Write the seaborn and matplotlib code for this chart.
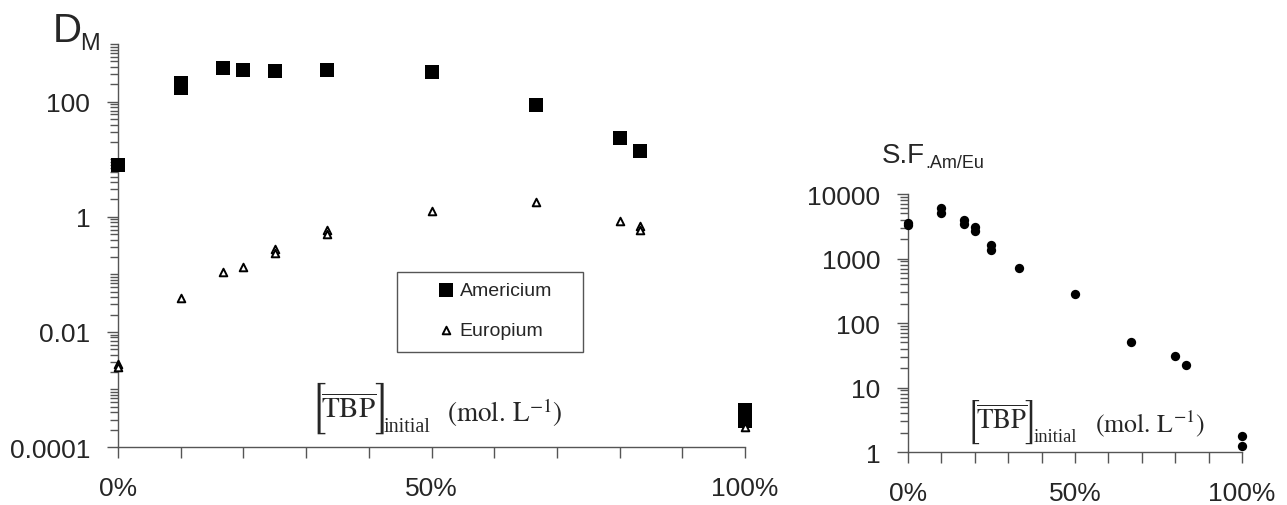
# D_M and separation factor vs. initial TBP fraction (log scale)
import numpy as np
import pandas as pd
import matplotlib
matplotlib.use("Agg")
import matplotlib.pyplot as plt
import seaborn as sns
from matplotlib.ticker import FixedLocator, FuncFormatter, NullFormatter
from matplotlib.patches import Rectangle

# Data
am_x = [0, 0.1, 0.1, 0.167, 0.2, 0.25, 0.333, 0.5, 0.667, 0.8, 0.833, 1.0, 1.0]
am_d = [7.9, 211, 173, 385, 355, 341, 360, 330, 87, 23, 13.8, 0.00044, 0.00028]

eu_x = [0, 0, 0.1, 0.167, 0.2, 0.25, 0.25, 0.333, 0.333, 0.5, 0.667, 0.8, 0.833, 0.833, 1.0]
eu_d = [0.00273, 0.00242, 0.039, 0.111, 0.136, 0.27, 0.23, 0.58, 0.50, 1.25, 1.8, 0.83, 0.68, 0.58, 0.000224]

sf_x = [0, 0, 0.1, 0.1, 0.167, 0.167, 0.2, 0.2, 0.25, 0.25, 0.333, 0.5, 0.667, 0.8, 0.833, 1.0, 1.0]
sf = [3600, 3300, 6100, 5080, 3950, 3430, 3080, 2670, 1620, 1355, 713, 282, 51, 30.8, 22.3, 1.77, 1.24]

am = pd.DataFrame({"TBP": am_x, "D": am_d})
eu = pd.DataFrame({"TBP": eu_x, "D": eu_d})
sep = pd.DataFrame({"TBP": sf_x, "SF": sf})

sns.set_style("ticks")
plt.rcParams["font.family"] = ["Liberation Sans", "DejaVu Sans"]
plt.rcParams["mathtext.fontset"] = "stix"

axis_col = "#555555"
W, H = 1287, 506

fig = plt.figure(figsize=(12.87, 5.06), dpi=100)
ax1 = fig.add_axes([0.0917, 0.1146, 0.4872, 0.7964])
ax2 = fig.add_axes([0.7055, 0.1047, 0.2595, 0.5099])


def px(x, y):
    # pixel position (from top-left) -> figure fraction
    return x / W, 1 - y / H


def tbp_label(x0, yb, k, kb, x_mol, mol_size):
    # [TBP-bar]_initial (mol. L^-1) built from pieces
    # x0 = left of "[", yb = bottom of the brackets (baseline of "initial")
    serif = ["Liberation Serif", "DejaVu Serif"]
    brk = ["STIXSizeOneSym", "Liberation Serif"]
    kw = dict(ha="left", va="baseline")
    fig.text(*px(x0, yb - 5 * kb), "[", fontsize=30.6 * kb, family=brk, **kw)
    fig.text(*px(x0 + 12 * k, yb - 14 * k), r"$\overline{\mathrm{TBP}}$", fontsize=21 * k, **kw)
    fig.text(*px(x0 + 65 * k, yb - 5 * kb), "]", fontsize=30.6 * kb, family=brk, **kw)
    fig.text(*px(x0 + 75 * k, yb), "initial", fontsize=14.5 * k, family=serif, **kw)
    fig.text(*px(x_mol, yb - 10 * k), r"$(\mathrm{mol.\,L}^{-1})$", fontsize=mol_size, **kw)


# left panel: distribution ratios
sns.scatterplot(data=am, x="TBP", y="D", marker="s", s=95, color="black",
                edgecolor="black", linewidth=0, label="Americium", ax=ax1, clip_on=False, zorder=3)
sns.scatterplot(data=eu, x="TBP", y="D", marker="^", s=30, facecolor="white",
                edgecolor="black", linewidth=1.4, label="Europium", ax=ax1, clip_on=False, zorder=4)

# right panel: separation factor
sns.scatterplot(data=sep, x="TBP", y="SF", marker="o", s=45, color="black",
                edgecolor="black", linewidth=0, ax=ax2, clip_on=False, zorder=3)


def minor_log(lo, hi):
    vals = []
    for e in range(lo, hi):
        vals += [k * 10.0 ** e for k in range(2, 10)]
    return vals


def pct(v, pos):
    return f"{v * 100:.0f}%"


for ax in (ax1, ax2):
    ax.set_yscale("log")
    ax.set_xlim(0, 1)
    ax.set_xlabel("")
    ax.set_ylabel("")
    sns.despine(ax=ax)
    for sp in ("left", "bottom"):
        ax.spines[sp].set_color(axis_col)
        ax.spines[sp].set_linewidth(1)
    ax.xaxis.set_major_locator(FixedLocator([0, 0.5, 1.0]))
    ax.xaxis.set_minor_locator(FixedLocator([0.1, 0.2, 0.3, 0.4, 0.6, 0.7, 0.8, 0.9]))
    ax.xaxis.set_major_formatter(FuncFormatter(pct))
    ax.yaxis.set_major_formatter(FuncFormatter(lambda v, p: f"{v:g}"))
    ax.yaxis.set_minor_formatter(NullFormatter())
    ax.tick_params(which="both", direction="out", color=axis_col, width=1, labelsize=19)
    ax.tick_params(axis="x", which="both", length=8, pad=13)
    ax.tick_params(axis="y", which="major", length=8, pad=12)
    ax.tick_params(axis="y", which="minor", length=6)

ax1.set_ylim(1e-4, 1e3)
ax1.yaxis.set_major_locator(FixedLocator([1e-4, 1e-2, 1, 100]))
ax1.yaxis.set_minor_locator(FixedLocator(minor_log(-4, 3) + [1e-3, 1e-1, 10, 1000]))

ax2.set_ylim(1, 1e4)
ax2.yaxis.set_major_locator(FixedLocator([1, 10, 100, 1000, 10000]))
ax2.yaxis.set_minor_locator(FixedLocator(minor_log(0, 4)))

# legend with its own box
ax1.legend(loc="upper left", bbox_to_anchor=(0.483, 0.455), frameon=False,
           fontsize=14, handlelength=0.8, handletextpad=0.3, labelspacing=1.15,
           borderpad=0.4)
ax1.add_patch(Rectangle((0.445, 0.236), 0.297, 0.198, transform=ax1.transAxes,
                        fill=False, edgecolor=axis_col, linewidth=1, zorder=5))

# axis titles / annotations
fig.text(*px(53, 42), "D", fontsize=29)
fig.text(*px(80, 50), "M", fontsize=17)
fig.text(*px(882, 163), "S.F", fontsize=20)
fig.text(*px(925, 168), ".Am/Eu", fontsize=13)

tbp_label(309, 432, 1.0, 1.0, 447, 19.5)
tbp_label(965, 442, 0.92, 0.85, 1095, 18.5)

plt.savefig("out.png", dpi=100)
